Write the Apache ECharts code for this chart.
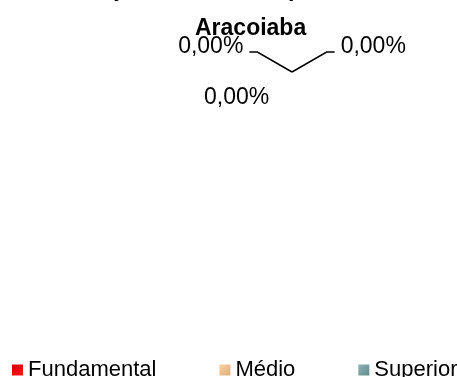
<!DOCTYPE html>
<html>
<head>
<meta charset="utf-8">
<script src="https://cdn.jsdelivr.net/npm/echarts@6/dist/echarts.min.js"></script>
<style>
html,body{margin:0;padding:0;background:#fff;}
#chart{width:457px;height:377px;}
</style>
</head>
<body>
<div id="chart"></div>
<script>
const titleLine1 = "Distribuição dos Alunos por Nível";
const titleLine2 = "Aracoiaba";
const categories = ["Fundamental", "Médio", "Superior"];
const percentValues = [0, 0, 0];

const FONT = "'Liberation Sans', Arial, sans-serif";
const grad = (c1, c2) => new echarts.graphic.LinearGradient(0, 0, 1, 1, [
  {offset: 0, color: c1}, {offset: 1, color: c2}
]);
const fills = [
  grad('#d00000', '#ff1a1a'),
  grad('#f8cfa2', '#e0ae7c'),
  grad('#8fb3b3', '#5f8c8c')
];

const fmt = v => v.toFixed(2).replace('.', ',') + '%';

const chart = echarts.init(document.getElementById('chart'), null, {renderer: 'canvas'});
chart.setOption({
  animation: false,
  backgroundColor: '#ffffff',
  title: [
    {text: titleLine1, left: 17, top: -22, padding: 0,
     textStyle: {fontFamily: FONT, fontSize: 23, fontWeight: 'bold', color: '#000'}},
    {text: titleLine2, left: 195, top: 17, padding: 0,
     textStyle: {fontFamily: FONT, fontSize: 23, fontWeight: 'bold', color: '#000'}}
  ],
  legend: {
    left: 12, top: 359, padding: 0, width: 520,
    itemWidth: 11, itemHeight: 11, itemGap: 63,
    icon: 'rect', selectedMode: false,
    textStyle: {fontFamily: FONT, fontSize: 22, color: '#000'},
    data: categories.map((c, i) => ({name: c, itemStyle: {color: fills[i]}}))
  },
  series: [{
    type: 'pie',
    center: [292, 72],
    radius: [0, 0],
    startAngle: 90,
    clockwise: true,
    avoidLabelOverlap: false,
    stillShowZeroSum: true,
    silent: true,
    emphasis: {disabled: true, scale: false},
    label: {
      show: true, position: 'outside',
      fontFamily: FONT, fontSize: 23, color: '#000',
      distanceToLabelLine: 6,
      formatter: p => '{a|' + fmt(percentValues[p.dataIndex]) + '}',
      rich: {
        a: {fontFamily: FONT, fontSize: 23, color: '#000', padding: [0, 0, 10, 0]},
        b: {fontFamily: FONT, fontSize: 23, color: '#000'}
      }
    },
    labelLine: {show: true, length: 40, length2: 8, lineStyle: {color: '#000', width: 1.5}},
    labelLayout: function (p) {
      if (p.dataIndex === 1) return {dx: -102, dy: -14};
    },
    data: categories.map((c, i) => ({
      name: c, value: percentValues[i], itemStyle: {color: fills[i]},
      labelLine: i === 1 ? {show: false} : undefined,
      label: i === 1 ? {formatter: p => '{b|' + fmt(percentValues[p.dataIndex]) + '}'} : undefined
    }))
  }]
});
</script>
</body>
</html>
